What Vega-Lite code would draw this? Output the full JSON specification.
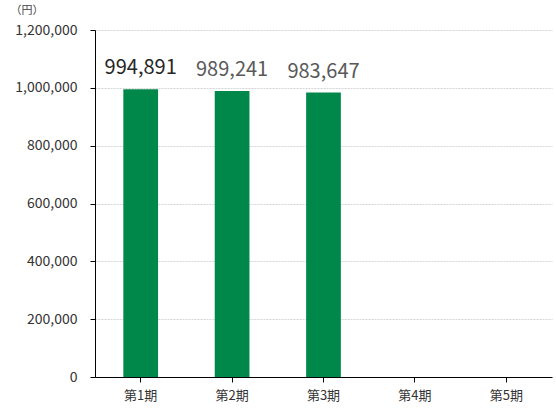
{
  "$schema": "https://vega.github.io/schema/vega-lite/v6.json",
  "width": 457,
  "height": 347,
  "autosize": {"type": "none"},
  "padding": {"left": 95, "top": 30, "right": 4, "bottom": 39},
  "background": "white",
  "config": {
    "view": {"stroke": null},
    "font": "Noto Sans CJK JP"
  },
  "data": {
    "values": [
      {"period": "第1期", "value": 994891},
      {"period": "第2期", "value": 989241},
      {"period": "第3期", "value": 983647},
      {"period": "第4期", "value": null},
      {"period": "第5期", "value": null}
    ]
  },
  "encoding": {
    "x": {
      "field": "period",
      "type": "nominal",
      "sort": null,
      "scale": {"domain": ["第1期", "第2期", "第3期", "第4期", "第5期"], "paddingInner": 0.62, "paddingOuter": 0.31},
      "axis": {
        "title": null,
        "labelAngle": 0,
        "labelFontSize": 13,
        "labelColor": "#333333",
        "labelPadding": 7,
        "domainColor": "#000000",
        "domainWidth": 1,
        "tickColor": "#000000",
        "tickSize": 5,
        "grid": false
      }
    },
    "y": {
      "field": "value",
      "type": "quantitative",
      "scale": {"domain": [0, 1200000], "nice": false},
      "axis": {
        "title": "（円）",
        "titleAngle": 0,
        "titleX": -85,
        "titleY": -20,
        "titleAlign": "left",
        "titleBaseline": "middle",
        "titleFontSize": 11,
        "titleFontWeight": "normal",
        "titleColor": "#444444",
        "values": [0, 200000, 400000, 600000, 800000, 1000000, 1200000],
        "format": ",d",
        "labelFontSize": 14,
        "labelColor": "#333333",
        "labelPadding": 13,
        "domainColor": "#000000",
        "tickColor": "#000000",
        "tickSize": 5,
        "grid": true,
        "gridColor": "#d4d4d4",
        "gridDash": [2, 1],
        "gridWidth": 1
      }
    }
  },
  "layer": [
    {
      "mark": {"type": "bar", "color": "#00884A"}
    },
    {
      "mark": {"type": "text", "baseline": "bottom", "dy": -11, "fontSize": 20, "fontWeight": "normal"},
      "encoding": {
        "text": {"field": "value", "type": "quantitative", "format": ",d"},
        "color": {
          "condition": {"test": "datum.period === '第1期'", "value": "#262626"},
          "value": "#595959"
        }
      }
    }
  ]
}
